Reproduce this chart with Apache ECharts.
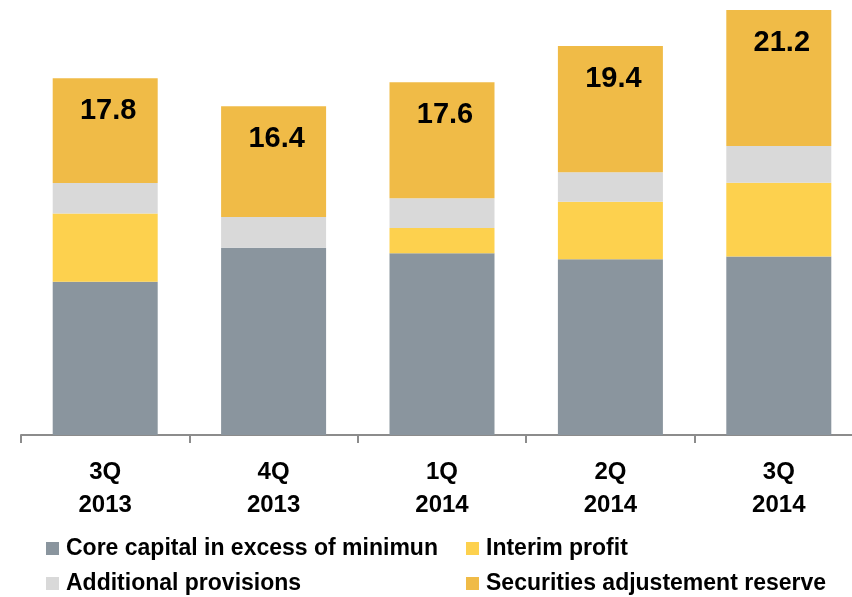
<!DOCTYPE html>
<html>
<head>
<meta charset="utf-8">
<script src="https://cdn.jsdelivr.net/npm/echarts@6/dist/echarts.min.js"></script>
<style>
  html, body { margin: 0; padding: 0; background: #fff; }
  #chart { width: 852px; height: 597px; }
</style>
</head>
<body>
<div id="chart"></div>
<script>
// Quarterly capital build-up (stacked components)
const quarters = ['3Q\n2013', '4Q\n2013', '1Q\n2014', '2Q\n2014', '3Q\n2014'];
const coreCapital = [7.65, 9.34, 9.07, 8.77, 8.91];
const interimProfit = [3.40, 0, 1.26, 2.86, 3.67];
const additionalProvisions = [1.52, 1.53, 1.48, 1.48, 1.84];
const securitiesReserve = [5.23, 5.53, 5.79, 6.29, 6.78];

const FONT = '"Liberation Sans", Arial, sans-serif';

function totalAt(i) {
  return coreCapital[i] + interimProfit[i] + additionalProvisions[i] + securitiesReserve[i];
}

const chart = echarts.init(document.getElementById('chart'), null, { renderer: 'canvas' });

const baseBar = {
  type: 'bar',
  stack: 'capital',
  barWidth: 105,
  emphasis: { disabled: true }
};

const legendText = {
  fontFamily: FONT, fontWeight: 'bold', fontSize: 23, lineHeight: 23,
  color: '#000', padding: [0, 0, 0, 2]
};

chart.setOption({
  animation: false,
  grid: {
    left: 21, top: 4, width: 842, height: 431,
    containLabel: false,
    outerBoundsMode: 'none'
  },
  legend: [
    {
      orient: 'vertical',
      left: 46,
      top: 537,
      height: 80,
      padding: 0,
      itemWidth: 13,
      itemHeight: 13,
      itemGap: 12,
      icon: 'rect',
      selectedMode: false,
      data: ['Core capital in excess of minimun', 'Additional provisions'],
      textStyle: legendText
    },
    {
      orient: 'vertical',
      left: 466,
      top: 537,
      height: 80,
      padding: 0,
      itemWidth: 13,
      itemHeight: 13,
      itemGap: 12,
      icon: 'rect',
      selectedMode: false,
      data: ['Interim profit', 'Securities adjustement reserve'],
      textStyle: legendText
    }
  ],
  xAxis: {
    type: 'category',
    data: quarters,
    axisLine: { lineStyle: { color: '#8c8c8c', width: 2 } },
    axisTick: { show: true, length: 8, lineStyle: { color: '#8c8c8c', width: 2 } },
    axisLabel: {
      margin: 21,
      fontFamily: FONT,
      fontWeight: 'bold',
      fontSize: 24,
      lineHeight: 33,
      color: '#000'
    }
  },
  yAxis: {
    type: 'value',
    min: 0,
    max: 21.5,
    show: false,
    splitLine: { show: false }
  },
  series: [
    Object.assign({}, baseBar, {
      name: 'Core capital in excess of minimun',
      data: coreCapital,
      itemStyle: { color: '#8A959E' }
    }),
    Object.assign({}, baseBar, {
      name: 'Interim profit',
      data: interimProfit,
      itemStyle: { color: '#FDD14E' }
    }),
    Object.assign({}, baseBar, {
      name: 'Additional provisions',
      data: additionalProvisions,
      itemStyle: { color: '#D9D9D9' }
    }),
    Object.assign({}, baseBar, {
      name: 'Securities adjustement reserve',
      data: securitiesReserve,
      itemStyle: { color: '#F0BB47' },
      label: {
        show: true,
        position: 'insideTop',
        distance: 18,
        offset: [3, 0],
        fontFamily: FONT,
        fontWeight: 'bold',
        fontSize: 29,
        color: '#000',
        formatter: p => totalAt(p.dataIndex).toFixed(1)
      }
    })
  ]
});
</script>
</body>
</html>
